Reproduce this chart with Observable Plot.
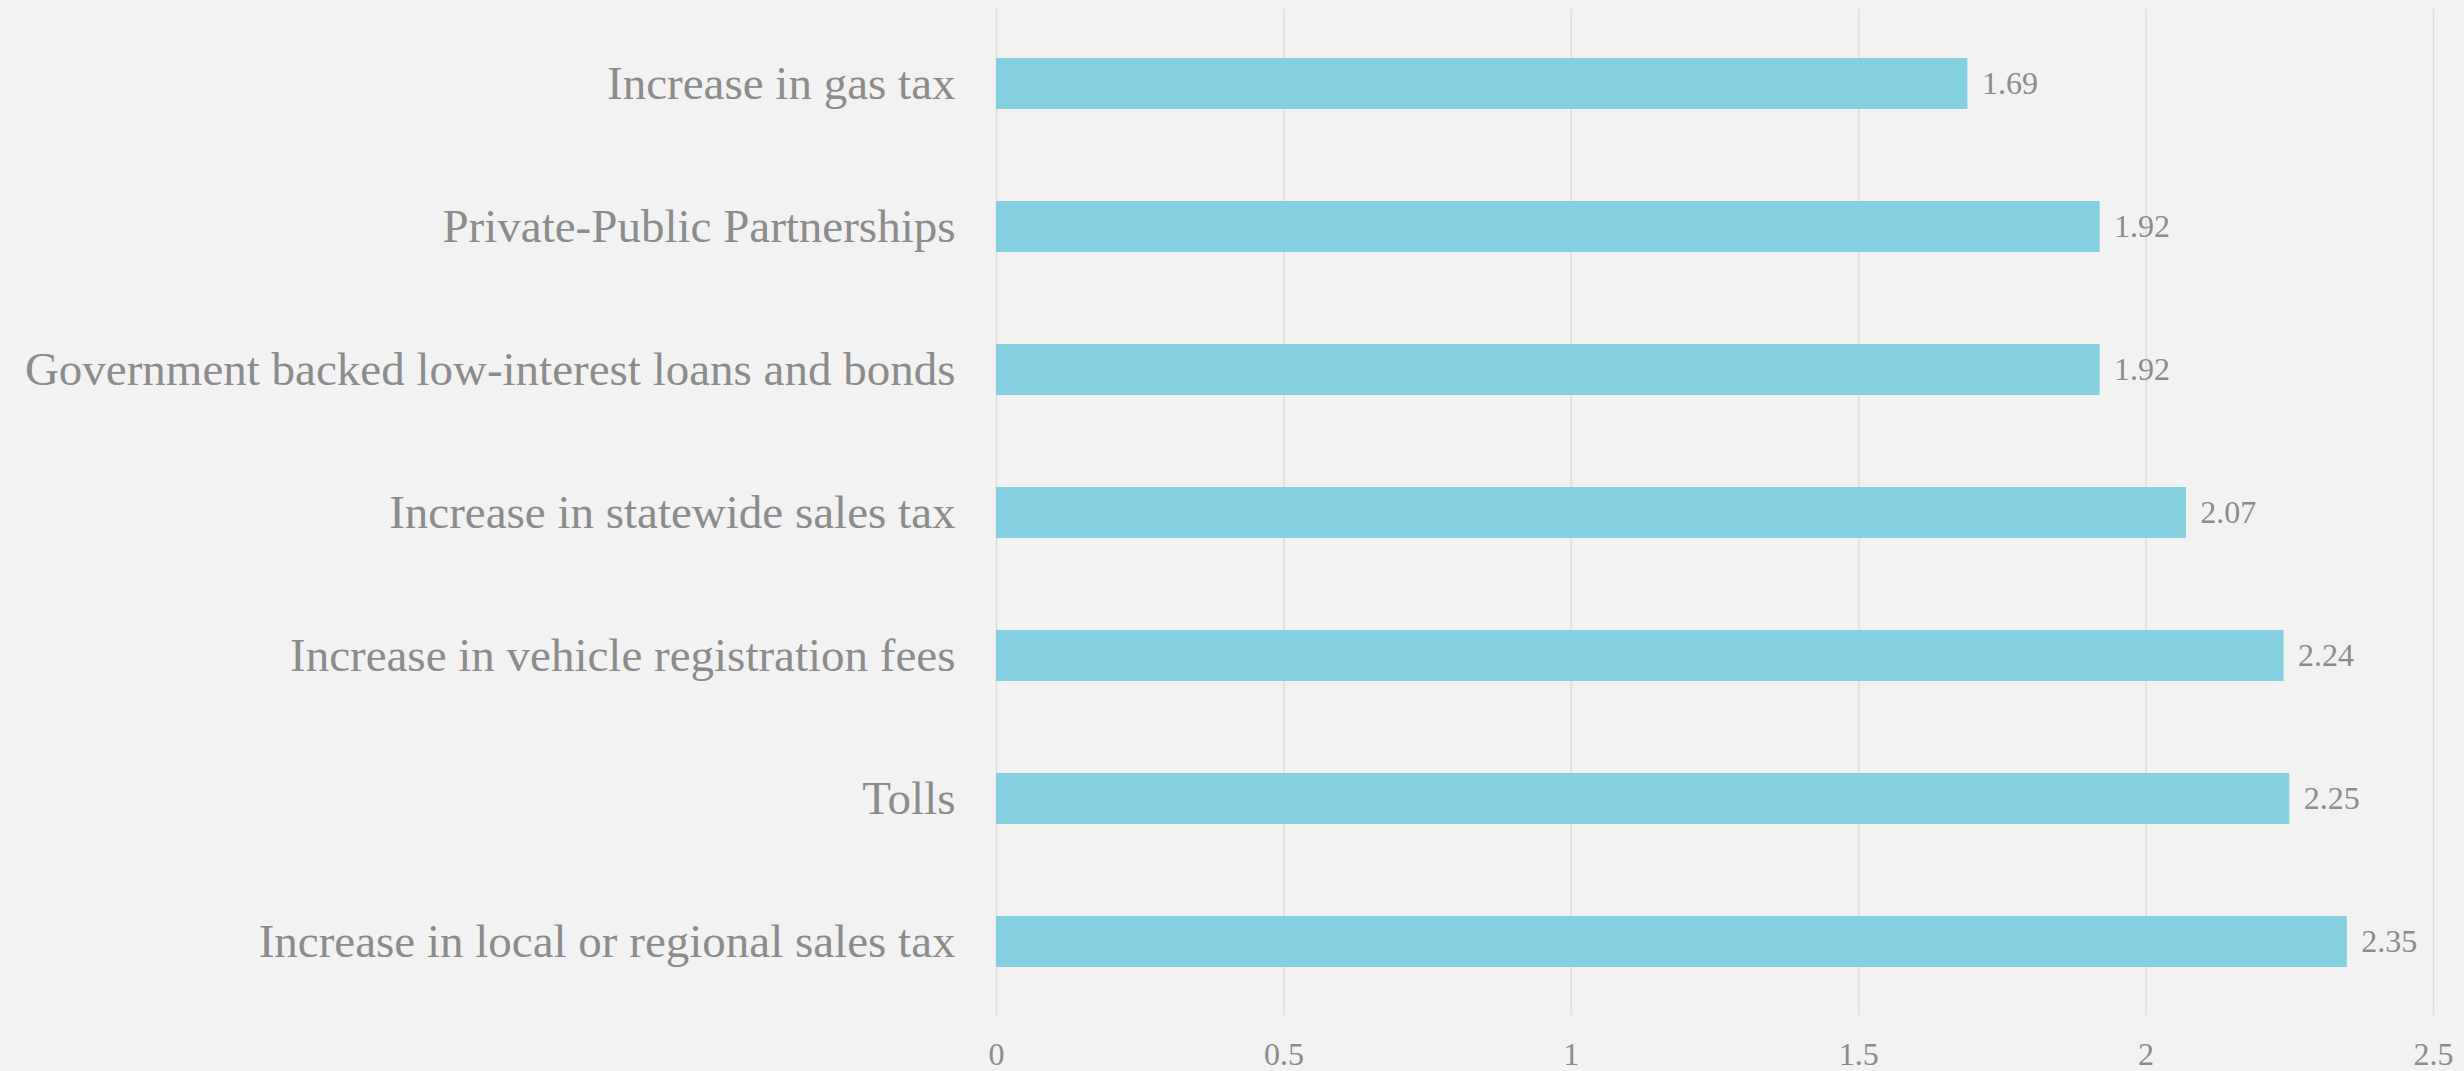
<!DOCTYPE html>
<html>
<head>
<meta charset="utf-8">
<script src="https://cdn.jsdelivr.net/npm/d3@7"></script>
<script src="https://cdn.jsdelivr.net/npm/@observablehq/plot@0.6"></script>
<style>
  html, body { margin: 0; padding: 0; background: #f2f2f2; }
  #chart svg { display: block; }
</style>
</head>
<body>
<div id="chart"></div>
<script>
const categories = [
  "Increase in gas tax",
  "Private-Public Partnerships",
  "Government backed low-interest loans and bonds",
  "Increase in statewide sales tax",
  "Increase in vehicle registration fees",
  "Tolls",
  "Increase in local or regional sales tax"
];
const values = [1.69, 1.92, 1.92, 2.07, 2.24, 2.25, 2.35];
const xTicks = [0, 0.5, 1, 1.5, 2, 2.5];

const data = categories.map((c, i) => ({category: c, value: values[i]}));

const textColor = "#8c8c8c";
const font = "'Liberation Serif', 'Times New Roman', serif";

const chart = Plot.plot({
  width: 2464,
  height: 1071,
  marginLeft: 996,
  marginRight: 31,
  marginTop: 9,
  marginBottom: 56,
  style: {background: "#f2f2f2", fontFamily: font, color: textColor},
  x: {domain: [0, 2.5], ticks: xTicks},
  y: {domain: categories, paddingInner: 0.645, paddingOuter: 0.3225},
  marks: [
    Plot.gridX(xTicks, {stroke: "#dedede", strokeOpacity: 1, strokeWidth: 1.5}),
    Plot.barX(data, {x: "value", y: "category", fill: "#84cfe0"}),
    Plot.text(data, {
      x: "value", y: "category",
      text: d => d3.format(".2f")(d.value),
      textAnchor: "start", dx: 14,
      fontSize: 32, fill: textColor
    }),
    Plot.axisX(xTicks, {
      tickSize: 0, tickPadding: 27, fontSize: 32,
      tickFormat: d => String(d), color: textColor, label: null
    }),
    Plot.axisY({
      tickSize: 0, tickPadding: 41, fontSize: 47,
      color: textColor, label: null
    })
  ]
});
document.getElementById("chart").appendChild(chart);
</script>
</body>
</html>
